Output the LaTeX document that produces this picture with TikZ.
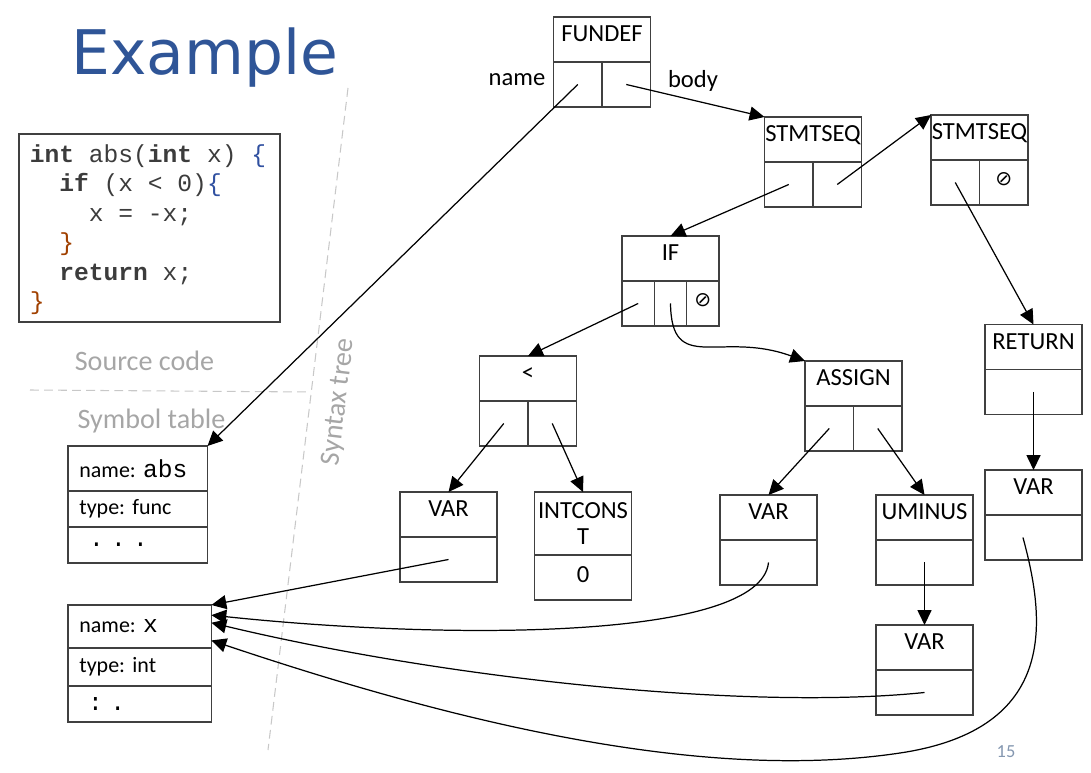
\documentclass[tikz,border=0pt]{standalone}
\usepackage{fontspec}
\setmainfont{Carlito}
\setmonofont{Liberation Mono}
\newfontfamily\titlefont{DejaVu Sans}
\newfontfamily\nilfont{DejaVu Sans}
\usetikzlibrary{positioning,arrows.meta}

\definecolor{titleblue}{RGB}{47,85,151}
\definecolor{boxline}{RGB}{64,64,64}
\definecolor{notegray}{RGB}{166,166,166}
\definecolor{dashgray}{RGB}{200,200,200}
\definecolor{pagegray}{RGB}{132,151,176}
\definecolor{codetext}{RGB}{60,60,60}
\definecolor{codeopen}{RGB}{48,80,160}
\definecolor{codeclose}{RGB}{160,64,0}

\newcommand{\monosize}{\ttfamily\fontsize{14}{16.8}\selectfont\frenchspacing}
\newcommand{\blank}{\phantom{x}}
\newcommand{\nil}{{\nilfont\fontsize{11.5}{11.5}\selectfont ⊘}}
\newcommand{\symcode}[1]{{\monosize #1}}

\begin{document}
\begin{tikzpicture}[x=0.02cm,y=-0.02cm,
	head/.style={draw=boxline, line width=0.8pt, outer sep=0pt, minimum width=1.94cm, minimum height=0.9cm,
			inner xsep=0pt, text height=0.65em, text depth=0.4em, align=center, font=\fontsize{14}{16}\selectfont},
	cell/.style={draw=boxline, line width=0.8pt, outer sep=0pt, minimum width=#1, minimum height=0.9cm, inner sep=0pt},
	symrow/.style 2 args={draw=boxline, line width=0.8pt, outer sep=0pt, text width=#1, minimum height=#2,
			inner xsep=6.5pt, inner ysep=0pt, align=left, font=\fontsize{12.5}{14}\selectfont\frenchspacing},
	note/.style={text=notegray, font=\fontsize{16}{18}\selectfont},
	link/.style={line width=0.7pt, -{Triangle[length=8.5pt,width=8pt]}},
	divide/.style={dashgray, line width=0.6pt, dash pattern=on 5pt off 3pt}]
	\useasboundingbox (0,0) rectangle (1091,773);

	% title and region labels
	\node[anchor=base west, inner sep=0pt, text=titleblue, font=\titlefont\fontsize{35}{40}\selectfont] (title) at (71,75) {Example};
	\coordinate (cutA) at (30,390);
	\coordinate (cutB) at (310,392);
	\coordinate (cutC) at (348,88);
	\coordinate (cutD) at (268,750);
	\draw[divide] (cutA) -- (cutB);
	\draw[divide] (cutC) -- (cutD);
	\node[note] (srclbl) at (144.5,361) {Source code};
	\node[note] (symlbl) at (151.5,421) {Symbol table};
	\node[note, rotate=83] (treelbl) at (339,402) {Syntax tree};
	\node[text=pagegray, font=\fontsize{10.5}{12}\selectfont] (pageno) at (1006,752) {15};

	% source code
	\node[draw=boxline, line width=0.8pt, outer sep=0pt, anchor=north west, minimum width=5.22cm, minimum height=3.76cm] (code) at (19,134) {};
	\node[below right=5.8pt and 6pt of code.north west, anchor=north west, inner sep=0pt, text=codetext,
		align=left, font=\monosize] (codetxt) {%
		\textbf{int}\blank abs(\textbf{int}\blank x)\blank\textcolor{codeopen}{\{}\\
		\blank\blank\textbf{if}\blank(x\blank<\blank0)\textcolor{codeopen}{\{}\\
		\blank\blank\blank\blank x\blank=\blank-x;\\
		\blank\blank\textcolor{codeclose}{\}}\\
		\blank\blank\textbf{return}\blank x;\\
		\textcolor{codeclose}{\}}};

	% symbol table
	\node[symrow={66.4pt}{0.9cm}, anchor=north west] (absname) at (68,446) {name: \symcode{abs}};
	\node[symrow={66.4pt}{0.72cm}, below=0pt of absname] (abstype) {type: func};
	\node[symrow={66.4pt}{0.72cm}, below=0pt of abstype] (absmore) {\hspace{5.5pt}\symcode{. . .}};
	\node[symrow={68.6pt}{0.86cm}, anchor=north west] (xname) at (68,605) {name: \symcode{x}};
	\node[symrow={68.6pt}{0.76cm}, below=0pt of xname] (xtype) {type: int};
	\node[symrow={68.6pt}{0.72cm}, below=0pt of xtype] (xmore) {\hspace{5pt}\symcode{: .}};

	% syntax tree
	\node[head] (fundef) at (602,39.5) {FUNDEF};
	\node[cell=0.97cm, below right=0pt of fundef.south west] (fundefA) {};
	\node[cell=0.97cm, right=0pt of fundefA] (fundefB) {};
	\node[font=\fontsize{14}{16}\selectfont] (namelbl) at (517,80) {name};
	\node[font=\fontsize{14}{16}\selectfont] (bodylbl) at (693,81) {body};

	\node[head] (seqa) at (813,139.5) {STMTSEQ};
	\node[cell=0.97cm, below right=0pt of seqa.south west] (seqaA) {};
	\node[cell=0.97cm, right=0pt of seqaA] (seqaB) {};

	\node[head] (seqb) at (979.5,137.5) {STMTSEQ};
	\node[cell=0.97cm, below right=0pt of seqb.south west] (seqbA) {};
	\node[cell=0.97cm, right=0pt of seqbA, text depth=0.45em] (seqbB) {\nil};

	\node[head] (ifs) at (670.5,258.5) {IF};
	\node[cell=0.6467cm, below right=0pt of ifs.south west] (ifsA) {};
	\node[cell=0.6467cm, right=0pt of ifsA] (ifsB) {};
	\node[cell=0.6467cm, right=0pt of ifsB, text depth=0.45em] (ifsC) {\nil};

	\node[head] (lt) at (528,378.5) {<};
	\node[cell=0.97cm, below right=0pt of lt.south west] (ltA) {};
	\node[cell=0.97cm, right=0pt of ltA] (ltB) {};

	\node[head] (assign) at (853.5,383.5) {ASSIGN};
	\node[cell=0.97cm, below right=0pt of assign.south west] (assignA) {};
	\node[cell=0.97cm, right=0pt of assignA] (assignB) {};

	\node[head] (ret) at (1033.5,347) {RETURN};
	\node[cell=1.94cm, below right=0pt of ret.south west] (retA) {};

	\node[head] (varr) at (1033.5,492.5) {VAR};
	\node[cell=1.94cm, below right=0pt of varr.south west] (varrA) {};

	\node[head] (vara) at (448.5,514.5) {VAR};
	\node[cell=1.94cm, below right=0pt of vara.south west] (varaA) {};

	\node[head, minimum height=1.26cm, text height=, text depth=, font=\fontsize{14}{14.5}\selectfont] (intc) at (583,523.5) {INTCONS\\T};
	\node[cell=1.94cm, below right=0pt of intc.south west, text depth=0.35em, font=\fontsize{14}{16}\selectfont] (intcA) {0};

	\node[head] (varb) at (768.5,517.5) {VAR};
	\node[cell=1.94cm, below right=0pt of varb.south west] (varbA) {};

	\node[head] (umin) at (924.5,517.5) {UMINUS};
	\node[cell=1.94cm, below right=0pt of umin.south west] (uminA) {};

	\node[head] (varc) at (924.5,647.5) {VAR};
	\node[cell=1.94cm, below right=0pt of varc.south west] (varcA) {};

	% pointers
	\draw[link] (fundefA.center) -- (absname.north east);
	\draw[link] (fundefB.center) -- (seqa.north west);
	\draw[link] (seqaB.center) -- (seqb.north west);
	\draw[link] (seqaA.center) -- (ifs.north);
	\draw[link] (seqbA.center) -- (ret.north);
	\draw[link] (retA.center) -- (varr.north);
	\draw[link] (ifsA.center) -- (lt.north);
	\draw[link] (ifsB.center) .. controls +(1,72) and +(-85,-31) .. (assign.north west);
	\draw[link] (ltA.center) -- (vara.north);
	\draw[link] (ltB.center) -- (intc.north);
	\draw[link] (assignA.center) -- (varb.north);
	\draw[link] (assignB.center) -- (umin.north);
	\draw[link] (uminA.center) -- (varc.north);
	\draw[link] (varaA.center) -- (xname.north east);
	\draw[link] (varbA.center) .. controls +(-8,78) and +(238,25) .. (xname.9);
	\draw[link] (varcA.center) .. controls +(-174,18) and +(238,57) .. (xname.3);
	\coordinate (loopturn) at (900,753);
	\draw[link] ([xshift=-6pt]varrA.center) .. controls +(22,81) and +(160,-24) .. (loopturn)
		.. controls +(-200,30) and +(238,80) .. (xname.-11);
\end{tikzpicture}
\end{document}
